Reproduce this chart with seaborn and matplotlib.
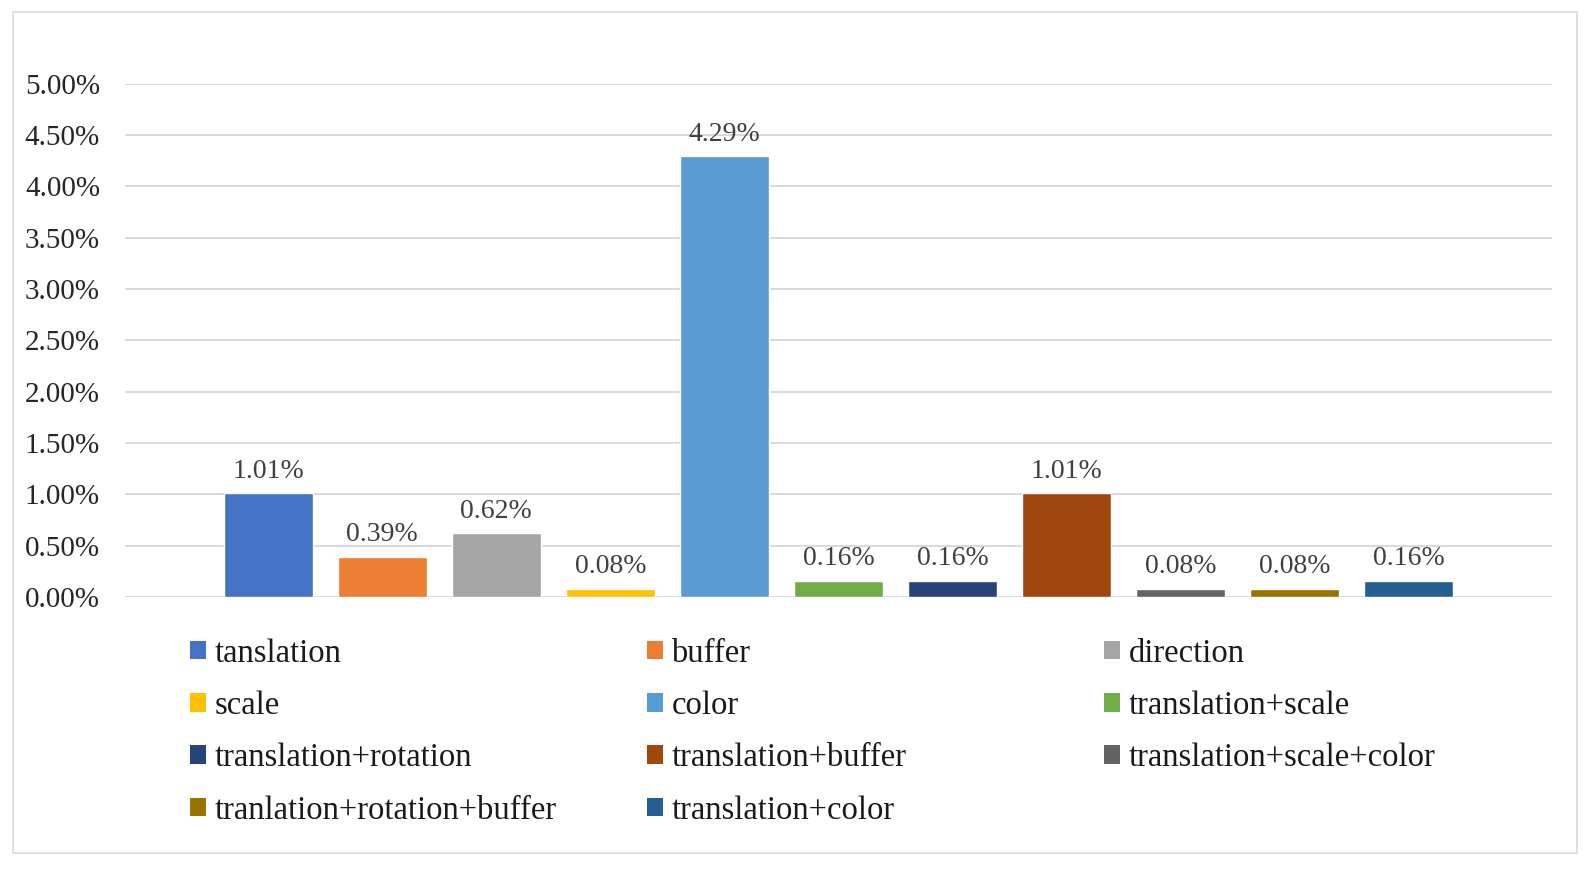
import matplotlib
matplotlib.use("Agg")
import matplotlib.pyplot as plt
from matplotlib.patches import Patch, Rectangle
import seaborn as sns
import pandas as pd

categories = ["tanslation", "buffer", "direction", "scale", "color",
              "translation+scale", "translation+rotation", "translation+buffer",
              "translation+scale+color", "tranlation+rotation+buffer", "translation+color"]
values = [1.01, 0.39, 0.62, 0.08, 4.29, 0.16, 0.16, 1.01, 0.08, 0.08, 0.16]
colors = ["#4472C4", "#ED7D31", "#A5A5A5", "#FFC000", "#5B9BD5", "#70AD47",
          "#264478", "#9E480E", "#636363", "#997300", "#255E91"]
y_ticks = [0.0, 0.5, 1.0, 1.5, 2.0, 2.5, 3.0, 3.5, 4.0, 4.5, 5.0]

sns.set_style("white")
plt.rcParams["font.family"] = ["Liberation Serif", "DejaVu Serif"]

W, H = 1593, 872
fig = plt.figure(figsize=(W / 100, H / 100), dpi=100)
ax = fig.add_axes([125 / W, 1 - 597 / H, (1552 - 125) / W, (597 - 83.5) / H])

df = pd.DataFrame({"cat": categories, "val": values})
sns.barplot(data=df, x="cat", y="val", hue="cat", order=categories,
            hue_order=categories, palette=colors, width=0.78, dodge=False,
            legend=False, ax=ax, saturation=1)

ax.set_xlim(-1.256, len(categories) - 1 + 1.256)
ax.set_ylim(0, 5.0)
ax.set_yticks(y_ticks)
ax.set_yticklabels([f"{t:.2f}%" for t in y_ticks], fontsize=21, color="#262626")
ax.set_xticks([])
ax.set_xlabel("")
ax.set_ylabel("")
ax.tick_params(axis="y", length=0, pad=18)
for s in ax.spines.values():
    s.set_visible(False)
ax.yaxis.grid(True, color="#d9d9d9", linewidth=1.4)
ax.set_axisbelow(True)

for p, v in zip(ax.patches, values):
    ax.annotate(f"{v:.2f}%", (p.get_x() + p.get_width() / 2, p.get_height()),
                xytext=(0, 7), textcoords="offset points", ha="center", va="bottom",
                fontsize=20, color="#404040")

handles = [Patch(facecolor=c, edgecolor="none") for c in colors]
col_x = [190, 647, 1104]
for j in range(3):
    idx = list(range(j, len(categories), 3))
    leg = fig.legend([handles[i] for i in idx], [categories[i] for i in idx],
                     loc="upper left", bbox_to_anchor=(col_x[j] / W, 1 - 638 / H),
                     frameon=False, fontsize=23.5, handlelength=0.5, handleheight=0.5,
                     handletextpad=0.25, labelspacing=0.67, borderpad=0,
                     borderaxespad=0)
    for t in leg.get_texts():
        t.set_color("#1a1a1a")

fig.patches.append(Rectangle((13 / W, 1 - 853 / H), (1577 - 13) / W, (853 - 12) / H,
                             transform=fig.transFigure, fill=False,
                             edgecolor="#d9d9d9", linewidth=1.2))

fig.savefig("out.png", dpi=100)
